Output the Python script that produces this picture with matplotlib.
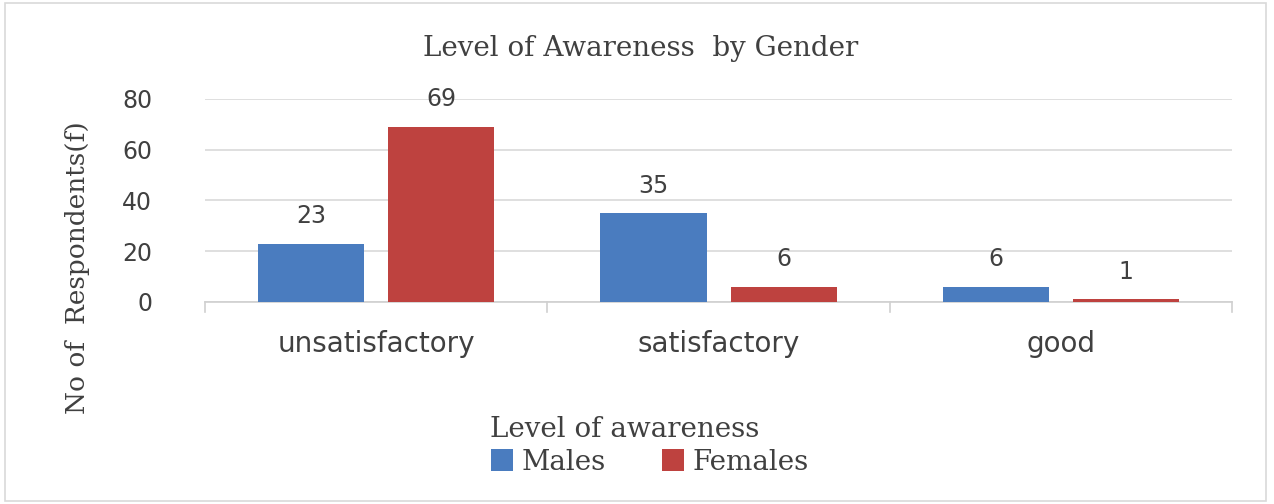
import matplotlib.pyplot as plt
import numpy as np

categories = ['unsatisfactory', 'satisfactory', 'good']
males = [23, 35, 6]
females = [69, 6, 1]
yticks = [0, 20, 40, 60, 80]

fig = plt.figure(figsize=(12.74, 5.04), dpi=100)
ax = fig.add_axes([0.161, 0.401, 0.806, 0.403])

x = np.arange(len(categories))
w = 0.31
off = 0.19
b1 = ax.bar(x - off, males, w, color='#4a7cbf', label='Males', zorder=3)
b2 = ax.bar(x + off, females, w, color='#be423f', label='Females', zorder=3)

# data labels
for bars, vals in [(b1, males), (b2, females)]:
    for b, v in zip(bars, vals):
        ax.text(b.get_x() + b.get_width() / 2, v + 6, str(v), ha='center',
                va='bottom', fontsize=17, color='#404040')

ax.set_xlim(-0.5, 2.5)
ax.set_ylim(0, 80)
ax.set_yticks(yticks)
ax.set_xticks(x)
ax.set_xticklabels(categories, fontsize=20, color='#404040')
ax.tick_params(axis='y', length=0, labelsize=17, labelcolor='#404040', pad=38)
ax.tick_params(axis='x', length=0, pad=20)
# category separator ticks
for s in [-0.5, 0.5, 1.5, 2.5]:
    ax.plot([s, s], [0, -4], color='#d0d0d0', lw=1.2, clip_on=False)

ax.grid(axis='y', color='#d9d9d9', lw=1.2, zorder=0)
for sp in ['top', 'right', 'left']:
    ax.spines[sp].set_visible(False)
ax.spines['bottom'].set_color('#d0d0d0')
ax.spines['bottom'].set_linewidth(1.2)

fig.text(0.503, 0.903, 'Level of Awareness  by Gender', ha='center', va='center',
         fontsize=20, color='#404040', family='DejaVu Serif')
ax.set_ylabel('No of  Respondents(f)', fontsize=19, color='#404040',
              family='DejaVu Serif')
ax.yaxis.set_label_coords(-0.112, 0.17)
fig.text(0.49, 0.147, 'Level of awareness', ha='center', va='center', fontsize=20,
         color='#404040', family='DejaVu Serif')
fig.legend(handles=[b1, b2], loc='center', bbox_to_anchor=(0.51, 0.083), ncol=2,
           frameon=False, prop={'family': 'DejaVu Serif', 'size': 20},
           handlelength=0.8, handleheight=0.8, columnspacing=2.0,
           handletextpad=0.3, labelcolor='#404040')

# outer border
fig.patches.append(plt.Rectangle((0.004, 0.006), 0.99, 0.988, transform=fig.transFigure,
                                 fill=False, edgecolor='#d9d9d9', lw=1.2))

fig.savefig('out.png', dpi=100)
